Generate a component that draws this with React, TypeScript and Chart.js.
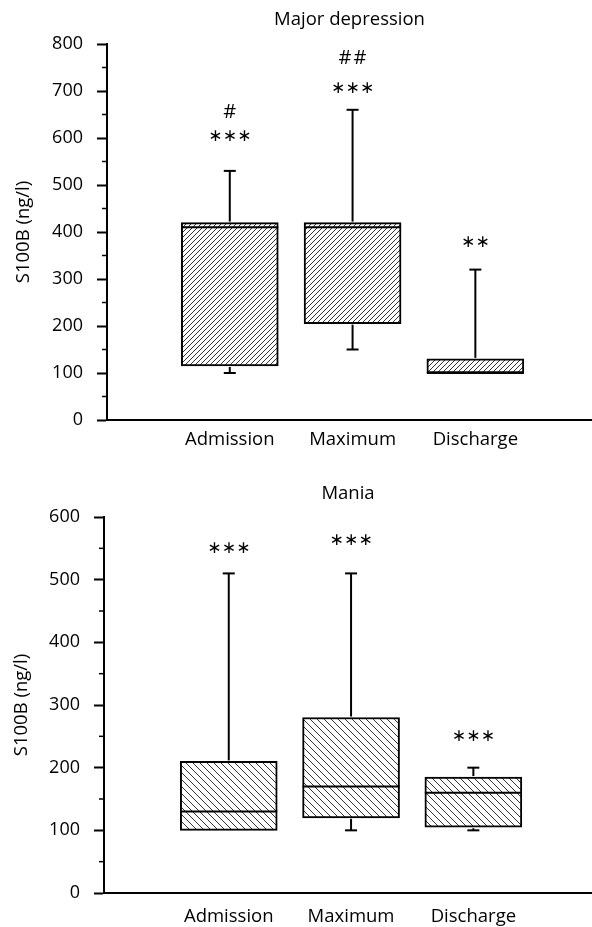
import React, { useEffect, useRef } from 'react';
import { Chart, registerables } from 'chart.js';

Chart.register(...registerables);

// ---------- shared ----------
const categories = ['Admission', 'Maximum', 'Discharge'];
const categoryPositions = [1, 2, 3];

// ---------- Major depression ----------
const mdTitle = 'Major depression';
const mdMin = [100, 150, 100];
const mdQ1 = [115, 205, 100];
const mdMedian = [410, 410, 100];
const mdQ3 = [420, 420, 130];
const mdMax = [530, 660, 320];
const mdStars = ['***', '***', '**'];
const mdStarsY = [602, 706, 377];
const mdHash = ['#', '##', ''];
const mdHashY = [655, 770, 0];
const mdYMax = 800;

// ---------- Mania ----------
const mnTitle = 'Mania';
const mnMin = [100, 100, 100];
const mnQ1 = [100, 120, 105];
const mnMedian = [130, 170, 160];
const mnQ3 = [210, 280, 185];
const mnMax = [510, 510, 200];
const mnStars = ['***', '***', '***'];
const mnStarsY = [550, 563, 249];
const mnHash = ['', '', ''];
const mnHashY = [0, 0, 0];
const mnYMax = 600;

const yAxisTitle = 'S100B (ng/l)';
const FONT = "'Open Sans', 'DejaVu Sans', sans-serif";
const TEXT_SIZE = 18.5;
const TICK_SIZE = 18;

function makeHatch(dir: number, size: number) {
  const c = document.createElement('canvas');
  c.width = size;
  c.height = size;
  const g = c.getContext('2d')!;
  g.fillStyle = '#ffffff';
  g.fillRect(0, 0, size, size);
  g.strokeStyle = '#333333';
  g.lineWidth = 1;
  g.beginPath();
  if (dir > 0) {
    g.moveTo(-1, size + 1);
    g.lineTo(size + 1, -1);
    g.moveTo(-1, 1);
    g.lineTo(1, -1);
    g.moveTo(size - 1, size + 1);
    g.lineTo(size + 1, size - 1);
  } else {
    g.moveTo(-1, -1);
    g.lineTo(size + 1, size + 1);
    g.moveTo(size - 1, -1);
    g.lineTo(size + 1, 1);
    g.moveTo(-1, size - 1);
    g.lineTo(1, size + 1);
  }
  g.stroke();
  return g.createPattern(c, 'repeat');
}

const boxPlugin = {
  id: 'boxDecor',
  afterDatasetsDraw(chart: any, _args: any, opts: any) {
    const { ctx, chartArea } = chart;
    const xs = chart.scales.x;
    const ys = chart.scales.y;
    const half = opts.boxWidth / 2;
    const capHalf = 6;
    const line = (x1: number, y1: number, x2: number, y2: number) => {
      ctx.beginPath();
      ctx.moveTo(x1, y1);
      ctx.lineTo(x2, y2);
      ctx.stroke();
    };
    ctx.save();
    ctx.strokeStyle = '#000';
    ctx.lineWidth = 2;
    ctx.lineCap = 'butt';
    opts.pos.forEach((p: number, i: number) => {
      const cx = xs.getPixelForValue(p);
      const my = ys.getPixelForValue(opts.median[i]);
      line(cx - half, my, cx + half, my);
      if (opts.max[i] > opts.q3[i]) {
        const t = ys.getPixelForValue(opts.max[i]);
        const b = ys.getPixelForValue(opts.q3[i]);
        line(cx, b - 1, cx, t);
        line(cx - capHalf, t, cx + capHalf, t);
      }
      if (opts.min[i] < opts.q1[i]) {
        const t = ys.getPixelForValue(opts.q1[i]);
        const b = ys.getPixelForValue(opts.min[i]);
        line(cx, t + 1, cx, b);
        line(cx - capHalf, b, cx + capHalf, b);
      }
      // significance marks
      ctx.fillStyle = '#000';
      ctx.textAlign = 'center';
      ctx.textBaseline = 'middle';
      const stars = opts.stars[i];
      if (stars) {
        ctx.font = "17px 'DejaVu Sans', sans-serif";
        const n = stars.length;
        const sy = ys.getPixelForValue(opts.starsY[i]);
        for (let k = 0; k < n; k++) {
          ctx.fillText('\u2217', cx + (k - (n - 1) / 2) * 14.5, sy);
        }
      }
      const hash = opts.hash[i];
      if (hash) {
        ctx.font = `20px ${FONT}`;
        const n = hash.length;
        const hy = ys.getPixelForValue(opts.hashY[i]);
        for (let k = 0; k < n; k++) {
          ctx.fillText('#', cx + (k - (n - 1) / 2) * 15, hy);
        }
      }
    });
    // minor ticks on y
    ys.ticks.forEach((t: any) => {
      if (t.value % 100 !== 0) {
        const py = ys.getPixelForValue(t.value);
        ctx.lineWidth = 1.5;
        line(chartArea.left - 5, py, chartArea.left, py);
      }
    });
    // title
    ctx.fillStyle = '#000';
    ctx.font = `${TEXT_SIZE}px ${FONT}`;
    ctx.textAlign = 'center';
    ctx.textBaseline = 'middle';
    ctx.fillText(opts.title, (chartArea.left + chartArea.right) / 2, opts.titleY);
    ctx.restore();
  },
};

type BoxProps = {
  height: number;
  title: string;
  titleY: number;
  q1: number[];
  q3: number[];
  median: number[];
  min: number[];
  max: number[];
  stars: string[];
  starsY: number[];
  hash: string[];
  hashY: number[];
  yMax: number;
  axisLeft: number;
  top: number;
  xAxisHeight: number;
  xMin: number;
  xMax: number;
  hatchDir: number;
  hatchSize: number;
  labelPadding: number;
  yTitlePad: number;
};

function BoxChart(p: BoxProps) {
  const ref = useRef<HTMLCanvasElement>(null);
  useEffect(() => {
    const canvas = ref.current!;
    const ctx = canvas.getContext('2d')!;
    const pattern = makeHatch(p.hatchDir, p.hatchSize);
    const boxWidth = 97;
    const chart = new Chart(ctx, {
      type: 'bar',
      data: {
        datasets: [
          {
            data: categoryPositions.map((x, i) => ({ x, y: [p.q1[i], p.q3[i]] })) as any,
            backgroundColor: pattern as any,
            borderColor: '#000',
            borderWidth: 2,
            borderSkipped: false,
            barThickness: boxWidth,
          },
        ],
      },
      options: {
        responsive: false,
        animation: false,
        devicePixelRatio: 1,
        layout: { padding: { top: p.top, left: 0, right: 0, bottom: 0 } },
        plugins: {
          legend: { display: false },
          tooltip: { enabled: false },
          title: { display: false },
          boxDecor: {
            pos: categoryPositions,
            q1: p.q1,
            q3: p.q3,
            median: p.median,
            min: p.min,
            max: p.max,
            stars: p.stars,
            starsY: p.starsY,
            hash: p.hash,
            hashY: p.hashY,
            boxWidth,
            title: p.title,
            titleY: p.titleY,
          },
        } as any,
        scales: {
          x: {
            type: 'linear',
            min: p.xMin,
            max: p.xMax,
            offset: false,
            grid: { display: false, drawTicks: false },
            border: { display: true, color: '#000', width: 2 },
            afterBuildTicks: (scale: any) => {
              scale.ticks = categoryPositions.map((v) => ({ value: v }));
            },
            afterFit: (scale: any) => {
              scale.height = p.xAxisHeight;
            },
            ticks: {
              autoSkip: false,
              maxRotation: 0,
              padding: p.labelPadding,
              color: '#000',
              font: { family: FONT, size: TEXT_SIZE },
              callback: (v: any) => {
                const idx = categoryPositions.indexOf(Math.round(Number(v)));
                return idx >= 0 ? categories[idx] : '';
              },
            },
          },
          y: {
            type: 'linear',
            min: 0,
            max: p.yMax,
            grid: {
              display: true,
              drawOnChartArea: false,
              drawTicks: true,
              tickLength: 10,
              tickWidth: 2,
              tickColor: (c: any) =>
                c.tick && c.tick.value % 100 === 0 ? '#000' : 'rgba(0,0,0,0)',
            },
            border: { display: true, color: '#000', width: 2 },
            afterFit: (scale: any) => {
              scale.width = p.axisLeft;
            },
            title: {
              display: true,
              text: yAxisTitle,
              color: '#000',
              font: { family: FONT, size: TEXT_SIZE },
              padding: { top: p.yTitlePad, bottom: 0 },
            },
            ticks: {
              stepSize: 50,
              autoSkip: false,
              padding: 14,
              color: '#000',
              font: { family: FONT, size: TICK_SIZE },
              callback: (v: any) => (Number(v) % 100 === 0 ? String(v) : ''),
            },
          },
        },
      } as any,
      plugins: [boxPlugin as any],
    });
    return () => chart.destroy();
  }, []);
  return (
    <canvas
      ref={ref}
      width={592}
      height={p.height}
      style={{ display: 'block', width: 592, height: p.height }}
    />
  );
}

export default function App() {
  useEffect(() => {
    document.body.style.margin = '0';
  }, []);
  return (
    <div style={{ position: 'absolute', left: 0, top: 0, width: 592, height: 927, background: '#fff' }}>
      <BoxChart
        height={465}
        title={mdTitle}
        titleY={20}
        q1={mdQ1}
        q3={mdQ3}
        median={mdMedian}
        min={mdMin}
        max={mdMax}
        stars={mdStars}
        starsY={mdStarsY}
        hash={mdHash}
        hashY={mdHashY}
        yMax={mdYMax}
        axisLeft={107}
        top={44}
        xAxisHeight={45}
        xMin={0}
        xMax={3.95}
        hatchDir={1}
        hatchSize={5}
        labelPadding={9}
        yTitlePad={13}
      />
      <BoxChart
        height={462}
        title={mnTitle}
        titleY={29}
        q1={mnQ1}
        q3={mnQ3}
        median={mnMedian}
        min={mnMin}
        max={mnMax}
        stars={mnStars}
        starsY={mnStarsY}
        hash={mnHash}
        hashY={mnHashY}
        yMax={mnYMax}
        axisLeft={104}
        top={52}
        xAxisHeight={34}
        xMin={-0.02}
        xMax={3.97}
        hatchDir={-1}
        hatchSize={7}
        labelPadding={13}
        yTitlePad={11}
      />
    </div>
  );
}
